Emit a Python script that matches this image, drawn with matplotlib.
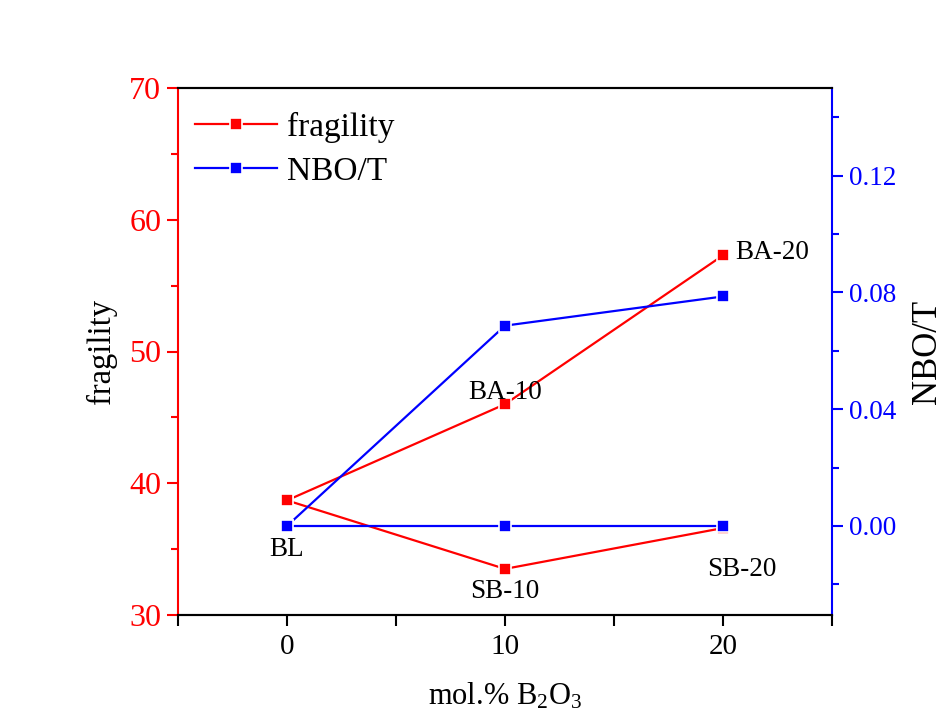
import matplotlib
matplotlib.use("Agg")
import matplotlib.pyplot as plt
from matplotlib.ticker import MultipleLocator, FormatStrFormatter

plt.rcParams['font.family'] = ['Liberation Serif', 'DejaVu Serif']
plt.rcParams['mathtext.fontset'] = 'custom'
plt.rcParams['mathtext.rm'] = 'Liberation Serif'
plt.rcParams['mathtext.it'] = 'Liberation Serif:italic'

# Data
x_vals = [0, 10, 20]
frag_BA = [38.7, 46.0, 57.3]
frag_SB = [38.7, 33.5, 36.6]
nbo_BA = [0.0, 0.0686, 0.0786]
nbo_SB = [0.0, 0.0, 0.0]
labels = ["BL", "BA-10", "BA-20", "SB-10", "SB-20"]

RED = '#ff0000'
BLUE = '#0000ff'

fig = plt.figure(figsize=(9.49, 7.28), dpi=100)
ax = fig.add_axes([178/949, 1-615/728, (832-178)/949, (615-88)/728])
ax2 = ax.twinx()

mk = dict(marker='s', markersize=9, markeredgecolor='white', markeredgewidth=1.2, lw=1.6)
l1, = ax.plot(x_vals, frag_BA, color=RED, label='fragility', **mk)
ax.plot(x_vals, frag_SB, color=RED, **mk)
l2, = ax2.plot(x_vals, nbo_BA, color=BLUE, label='NBO/T', **mk)
ax2.plot(x_vals, nbo_SB, color=BLUE, **mk)

ax.set_xlim(-5, 25)
ax.set_ylim(30, 70)
ax2.set_ylim(-0.0305, 0.150)

ax.xaxis.set_major_locator(MultipleLocator(10))
ax.xaxis.set_minor_locator(MultipleLocator(5))
ax.yaxis.set_major_locator(MultipleLocator(10))
ax.yaxis.set_minor_locator(MultipleLocator(5))
ax2.yaxis.set_major_locator(MultipleLocator(0.04))
ax2.yaxis.set_minor_locator(MultipleLocator(0.02))
ax2.yaxis.set_major_formatter(FormatStrFormatter('%.2f'))

for a in (ax, ax2):
    for s in a.spines.values():
        s.set_linewidth(1.5)
ax.spines['left'].set_color(RED)
ax2.spines['left'].set_visible(False)
ax2.spines['right'].set_color(BLUE)
ax.spines['right'].set_visible(False)

ax.tick_params(axis='x', which='major', direction='out', length=8, width=1.5, labelsize=21, pad=6, top=False)
ax.tick_params(axis='x', which='minor', direction='out', length=8, width=1.5, top=False)
ax.tick_params(axis='y', which='major', direction='out', length=8, width=1.5, colors=RED, labelsize=23, pad=4)
ax.tick_params(axis='y', which='minor', direction='out', length=5, width=1.5, colors=RED)
ax2.tick_params(axis='y', which='major', direction='out', length=8, width=1.5, colors=BLUE, labelsize=19.5, pad=4)
ax2.tick_params(axis='y', which='minor', direction='out', length=5, width=1.5, colors=BLUE)

ax.set_xlabel('mol.% B$_2$O$_3$', fontsize=22, labelpad=15)
ax.set_ylabel('fragility', fontsize=23.5)
ax.yaxis.set_label_coords(-0.093, 0.5)
ax2.set_ylabel('NBO/T', fontsize=25)
ax2.yaxis.set_label_coords(1.121, 0.5)

# Annotations
ann_fs = 19.5
ax.text(0, 34.95, labels[0], ha='center', va='center', fontsize=ann_fs)
ax.text(10, 46.9, labels[1], ha='center', va='center', fontsize=ann_fs)
ax.text(20.55, 57.55, labels[2], ha='left', va='center', fontsize=ann_fs)
ax.text(10, 31.76, labels[3], ha='center', va='center', fontsize=ann_fs)
ax.text(20.88, 33.43, labels[4], ha='center', va='center', fontsize=ann_fs)

leg = ax.legend(handles=[l1, l2], loc='upper left', bbox_to_anchor=(0.026, 0.955),
                borderaxespad=0, borderpad=0, frameon=False, fontsize=24,
                handlelength=2.45, handletextpad=0.3, labelspacing=0.4)
ax2.set_zorder(ax.get_zorder() + 1)
ax.patch.set_visible(True)
ax2.patch.set_visible(False)

fig.savefig('out.png', dpi=100, facecolor='white')
